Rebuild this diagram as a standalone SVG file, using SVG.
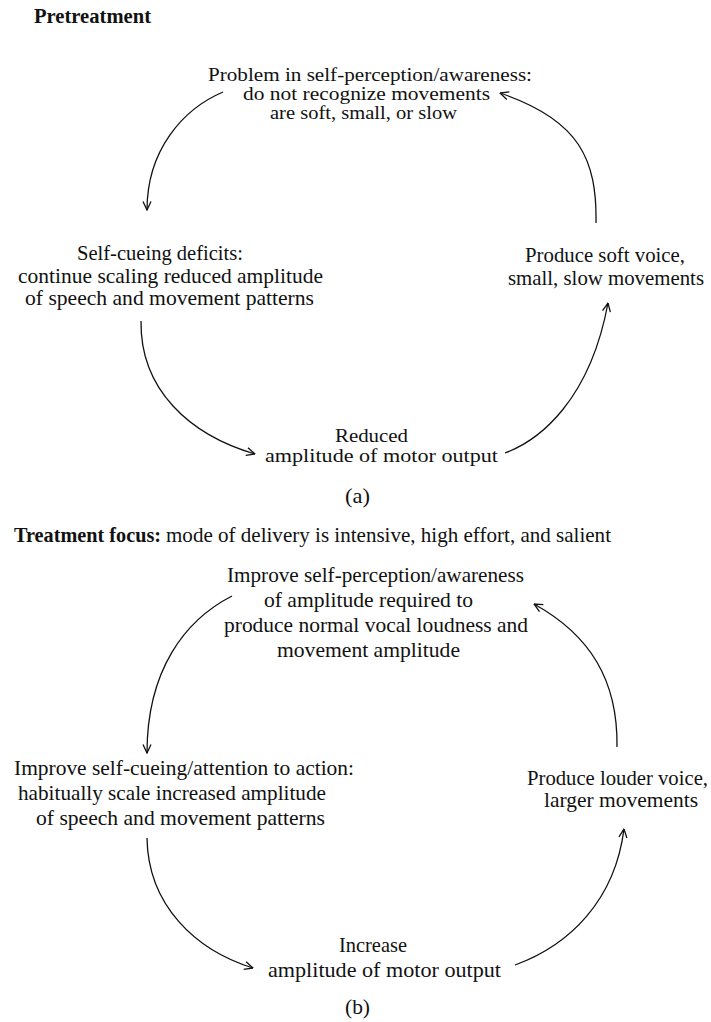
<svg xmlns="http://www.w3.org/2000/svg" width="711" height="1022" viewBox="0 0 711 1022">
<style>
text{font-family:"Liberation Serif","Times New Roman",serif;font-size:21px;fill:#111}
.t{font-size:19.5px}
.b{font-weight:bold}
.c{fill:none;stroke:#111;stroke-width:1.3}
</style>
<defs>
<marker id="ah" viewBox="0 0 10 10" refX="9.5" refY="5" markerWidth="10" markerHeight="10" markerUnits="userSpaceOnUse" orient="auto">
<path d="M1,1 L9.5,5 L1,9" fill="none" stroke="#111" stroke-width="1.3"/>
</marker>
</defs>
<rect width="711" height="1022" fill="#fff"/>
<g id="title-a"><text class="b" x="34" y="23" textLength="117" lengthAdjust="spacingAndGlyphs">Pretreatment</text></g>
<g id="a-top">
<text class="t" x="208" y="81" textLength="324" lengthAdjust="spacingAndGlyphs">Problem in self-perception/awareness:</text>
<text class="t" x="243" y="100" textLength="247" lengthAdjust="spacingAndGlyphs">do not recognize movements</text>
<text class="t" x="270" y="119" textLength="187" lengthAdjust="spacingAndGlyphs">are soft, small, or slow</text>
</g>
<g id="a-left">
<text x="77" y="260" textLength="166" lengthAdjust="spacingAndGlyphs">Self-cueing deficits:</text>
<text x="18" y="283" textLength="305" lengthAdjust="spacingAndGlyphs">continue scaling reduced amplitude</text>
<text x="25" y="305" textLength="289" lengthAdjust="spacingAndGlyphs">of speech and movement patterns</text>
</g>
<g id="a-right">
<text x="525" y="262" textLength="160" lengthAdjust="spacingAndGlyphs">Produce soft voice,</text>
<text x="508" y="285" textLength="196" lengthAdjust="spacingAndGlyphs">small, slow movements</text>
</g>
<g id="a-bottom">
<text class="t" x="335" y="442" textLength="73" lengthAdjust="spacingAndGlyphs">Reduced</text>
<text class="t" x="265" y="462" textLength="233" lengthAdjust="spacingAndGlyphs">amplitude of motor output</text>
</g>
<g id="label-a"><text x="345" y="503" textLength="25" lengthAdjust="spacingAndGlyphs">(a)</text></g>
<g id="title-b">
<text class="b" x="14" y="542" textLength="147" lengthAdjust="spacingAndGlyphs">Treatment focus:</text>
<text x="166" y="542" textLength="445" lengthAdjust="spacingAndGlyphs">mode of delivery is intensive, high effort, and salient</text>
</g>
<g id="b-top">
<text x="227" y="582" textLength="297" lengthAdjust="spacingAndGlyphs">Improve self-perception/awareness</text>
<text x="264" y="607" textLength="209" lengthAdjust="spacingAndGlyphs">of amplitude required to</text>
<text x="224" y="632" textLength="304" lengthAdjust="spacingAndGlyphs">produce normal vocal loudness and</text>
<text x="277" y="657" textLength="183" lengthAdjust="spacingAndGlyphs">movement amplitude</text>
</g>
<g id="b-left">
<text x="14" y="775" textLength="340" lengthAdjust="spacingAndGlyphs">Improve self-cueing/attention to action:</text>
<text x="18" y="800" textLength="308" lengthAdjust="spacingAndGlyphs">habitually scale increased amplitude</text>
<text x="36" y="825" textLength="289" lengthAdjust="spacingAndGlyphs">of speech and movement patterns</text>
</g>
<g id="b-right">
<text x="527" y="785" textLength="181" lengthAdjust="spacingAndGlyphs">Produce louder voice,</text>
<text x="544" y="807" textLength="154" lengthAdjust="spacingAndGlyphs">larger movements</text>
</g>
<g id="b-bottom">
<text x="339" y="952" textLength="68" lengthAdjust="spacingAndGlyphs">Increase</text>
<text x="268" y="977" textLength="233" lengthAdjust="spacingAndGlyphs">amplitude of motor output</text>
</g>
<g id="label-b"><text x="345" y="1014" textLength="25" lengthAdjust="spacingAndGlyphs">(b)</text></g>
<g id="connectors">
<path class="c" d="M223,92 C183,109 147,150 147,210" marker-end="url(#ah)"/>
<path class="c" d="M596,223 C597,160 580,120 500,93" marker-end="url(#ah)"/>
<path class="c" d="M141,321 C140,390 190,435 255,454" marker-end="url(#ah)"/>
<path class="c" d="M505,453 C540,440 590,400 608,303" marker-end="url(#ah)"/>
<path class="c" d="M232,596 C185,620 147,670 147,753" marker-end="url(#ah)"/>
<path class="c" d="M617,747 C618,680 590,635 534,604" marker-end="url(#ah)"/>
<path class="c" d="M147,838 C148,905 195,950 253,968" marker-end="url(#ah)"/>
<path class="c" d="M515,965 C570,945 615,900 624,829" marker-end="url(#ah)"/>
</g>
</svg>
